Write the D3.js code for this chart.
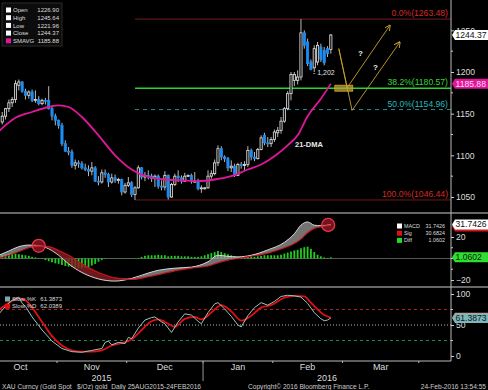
<!DOCTYPE html>
<html>
<head>
<meta charset="utf-8">
<script src="https://cdn.jsdelivr.net/npm/d3@7"></script>
<style>
  html, body { margin: 0; padding: 0; background: #000; }
  svg { display: block; font-family: "Liberation Sans", Arial, sans-serif; }
</style>
</head>
<body>
<svg id="chart" width="488" height="390"></svg>
<script>
// day index counts weekdays, 0 = 1 Oct 2015
const firstDay = 5;
const open = [1140,1147,1156,1163,1167,1184,1188,1177,1172,1176,1166,1167,1162,1166,1166,1156,1147,1142,1136,1114,
  1105,1104,1088,1091,1090,1085,1083,1081,1085,1069,1068,1079,1077,1068,1073,1070,1071,1056,1064,1067,
  1053,1061,1085,1074,1076,1075,1072,1075,1063,1062,1076,1050,1065,1075,1073,1069,1075,1076,1069,1069,
  1060,1061,1061,1075,1078,1091,1108,1098,1096,1085,1087,1076,1089,1088,1089,1106,1098,1096,1107,1124,
  1115,1114,1119,1127,1130,1141,1156,1174,1190,1190,1194,1247,1236,1212,1205,1212,1230,1226,1228,1226.90];
const high = [1152,1157,1167,1170,1190,1191,1189,1180,1178,1179,1178,1171,1168,1169,1183,1160,1150,1143,1139,1118,
  1110,1107,1095,1094,1093,1090,1088,1092,1087,1075,1083,1083,1079,1078,1077,1073,1072,1067,1074,1069,
  1063,1088,1086,1080,1082,1078,1077,1077,1070,1081,1077,1067,1078,1082,1076,1079,1077,1078,1080,1072,
  1064,1062,1082,1082,1095,1112,1111,1100,1098,1094,1090,1091,1092,1093,1111,1108,1104,1109,1124,1127,
  1122,1122,1131,1134,1146,1158,1177,1200,1200,1202,1263.48,1250,1240,1215,1232,1236,1234,1230,1231,1245.64];
const low = [1137,1143,1152,1158,1163,1178,1175,1167,1168,1164,1163,1160,1160,1161,1155,1142,1136,1132,1111,1104,
  1100,1085,1083,1085,1083,1081,1075,1076,1068,1064,1066,1073,1062,1066,1067,1066,1052,1054,1062,1050,
  1046.44,1060,1071,1069,1071,1068,1062,1060,1058,1058,1047,1049,1063,1068,1066,1068,1074,1066,1067,1058,
  1055,1059,1060,1072,1076,1087,1094,1092,1081,1080,1074,1075,1084,1081,1086,1094,1093,1095,1106,1112,
  1110,1110,1116,1122,1126,1139,1154,1166,1183,1185,1190,1228,1207,1202,1200,1208,1212,1208,1218,1221.96];
const close = [1147,1156,1163,1167,1186,1188,1177,1172,1176,1166,1167,1162,1166,1165,1156,1147,1142,1136,1114,1105,
  1104,1088,1091,1090,1085,1083,1081,1085,1069,1068,1079,1077,1068,1073,1070,1071,1056,1064,1067,1053,
  1061,1085,1074,1076,1075,1072,1075,1063,1062,1076,1050,1065,1075,1073,1069,1075,1076,1069,1069,1060,
  1061,1061,1075,1078,1091,1108,1098,1096,1085,1087,1076,1089,1088,1089,1106,1098,1096,1107,1121,1115,
  1114,1119,1128,1130,1141,1156,1174,1197,1197,1194,1247,1232,1210,1203,1228,1232,1215,1211,1222,1244.37];

// 21-day moving average
const smaDay = [4,9,14,19,22,25,29,34,39,44,49,54,59,64,69,74,79,83,87,91,94,97,101,104];
const smaVal = [1129,1145,1152,1158,1160,1158,1146,1124,1100,1083,1074,1071,1070,1069,1071,1075,1083,1089,1099,1112,1124,1147,1168,1185.88];

// MACD panel
const macdDay = [4,7,10,13,16,19,22,25,29,34,39,44,49,52,57,62,67,70,73,76,80,85,90,93,95,97,99,101,104];
const macdVal = [3,7,11,12.5,12,9,3,-5,-13,-19,-21,-18.5,-13.5,-11,-9,-8,-3,3,2,1.5,3,8,15,23,31,34,31,30.5,31.7426];
const sigVal  = [0,3,6.5,10,11.6,11,7.5,3,-5,-13,-18,-19.5,-17,-15,-11.5,-9,-7,-4,-1.5,0,2,5,10,14,18,24,28,29.5,30.6824];
const diffVal = [3.5,4,4.5,4.5,4.5,4,3.5,3,2.5,1.5,1,0.5,-0.5,-1.5,-2.5,-3.5,-4.5,-5,-6,-7,
  -7.5,-8,-8.5,-9,-9,-8.5,-8,-6.5,-5,-3,-1.5,-0.5,0.2,-0.2,0.2,-0.2,0.2,0.2,0.3,0.3,
  0.3,0.5,1.5,2.5,3,3,3,3.5,3,3,2,2.5,2.5,2.5,2,2,2,1.5,1.5,1.5,
  2,3,4,5,6,7,6,5,4,3,2,1.5,1.5,1,1.5,1.5,1.5,2,2.5,3,
  3,3,3,3,3.5,4.5,5.5,6.5,7.5,8,9.5,10.5,11,9,6,3.5,2,1,0.5,1.0602];

// Slow stochastics
const kDay = [4,6,8,10,11,12,14,17,20,23,26,29,32,35,36,37,38,40,42,43,44,46,48,50,51,53,54,56,58,60,62,64,65,67,69,70,72,73,74,76,77,79,81,83,85,87,89,91,93,95,97,99,101,102,103,104];
const kVal = [68,80,90,95,85,80,63,42,24,12,7,6,9,12,22,24,18,22,20,30,28,45,58,62,63,55,52,38,55,68,66,56,52,70,84,86,76,70,64,50,47,65,78,86,82,88,96,98,97,95,85,70,60,57,58,61.3873];
const dDay = [4,7,10,12,14,17,20,23,26,29,32,35,38,41,44,47,50,52,55,57,60,63,65,68,71,74,77,80,83,86,90,93,96,98,100,102,104];
const dVal = [74,86,93,90,78,55,32,17,9,7,7,9,17,21,27,42,56,59,52,47,60,63,59,70,82,72,57,65,78,82,94,97,96,86,75,66,62.0389];

const monthNames = ["Oct","Nov","Dec","Jan","Feb","Mar"];
const monthStart = [0,22,43,66,87,108,131];
const yearNames = ["2015","2016"];
const yearStart = [0,66];

// Fibonacci retracement from the Dec low to the Feb high
const fibPct = ["0.0%","38.2%","50.0%","100.0%"];
const fibVal = [1263.48,1180.57,1154.96,1046.44];

const W = 451;
const svg = d3.select("#chart");
svg.append("rect").attr("width", 488).attr("height", 390).attr("fill", "#000");

const x = d3.scaleLinear().domain([4.33, 140.2]).range([0, W]);
const yP = d3.scaleLinear().domain([1050, 1200]).range([197, 72]);
const yM = d3.scaleLinear().domain([-20, 20]).range([280, 237]);
const yS = d3.scaleLinear().domain([0, 100]).range([356, 294]);

const defs = svg.append("defs");
[["clipP", 0, 212], ["clipM", 214, 72], ["clipS", 288, 73]].forEach(([id, y0, h]) => {
  defs.append("clipPath").attr("id", id).append("rect").attr("x", 0).attr("y", y0).attr("width", W).attr("height", h);
});

// ---------- price panel ----------
const gP = svg.append("g").attr("clip-path", "url(#clipP)");

const fibColor = ["#7a1c1c", "#2ad42a", "#2a8c8c", "#6e1616"];
const fibText = ["#d42a2a", "#3ad43a", "#2ab8b8", "#d42a2a"];
fibVal.forEach((v, k) => {
  gP.append("line").attr("x1", x(45)).attr("x2", W)
    .attr("y1", yP(v)).attr("y2", yP(v))
    .attr("stroke", fibColor[k]).attr("stroke-width", k === 1 ? 1.6 : 1)
    .attr("stroke-dasharray", k === 2 ? "4,4" : null);
  gP.append("text").attr("x", W - 3).attr("y", yP(v) - 3)
    .attr("text-anchor", "end").attr("font-size", 8.6).attr("fill", fibText[k])
    .text(`${fibPct[k]}(${v.toFixed(2)})`);
});

const candles = close.map((c, k) => ({ i: firstDay + k, o: open[k], h: high[k], l: low[k], c }));
gP.selectAll("line.wick").data(candles).join("line").attr("class", "wick")
  .attr("x1", d => x(d.i)).attr("x2", d => x(d.i))
  .attr("y1", d => yP(d.h)).attr("y2", d => yP(d.l))
  .attr("stroke", "#b8b8b8").attr("stroke-width", 1);
gP.selectAll("rect.body").data(candles).join("rect").attr("class", "body")
  .attr("x", d => x(d.i) - 1.1).attr("width", 2.2)
  .attr("y", d => yP(Math.max(d.o, d.c)))
  .attr("height", d => Math.max(1, Math.abs(yP(d.o) - yP(d.c))))
  .attr("fill", d => d.c >= d.o ? "#111" : "#1e8cf0")
  .attr("stroke", d => d.c >= d.o ? "#e6e6e6" : "#1e8cf0")
  .attr("stroke-width", 0.8);

const sma = smaDay.map((d, k) => [d, smaVal[k]]);
gP.append("path").datum(sma)
  .attr("d", d3.line().x(d => x(d[0])).y(d => yP(d[1])).curve(d3.curveMonotoneX))
  .attr("fill", "none").attr("stroke", "#e0179a").attr("stroke-width", 1.8);

gP.append("text").attr("x", 295).attr("y", 147).attr("font-size", 7.5).attr("font-weight", "bold")
  .attr("fill", "#e8e8e8").text("21-DMA");
gP.append("text").attr("x", x(98) + 2).attr("y", yP(1202) + 5).attr("font-size", 7)
  .attr("fill", "#e0e0e0").text("- 1,202");

// scenario sketch
const gold = "#c8a22c";
defs.append("marker").attr("id", "arr").attr("viewBox", "0 0 10 10").attr("refX", 9).attr("refY", 5)
  .attr("markerWidth", 7).attr("markerHeight", 7).attr("orient", "auto")
  .append("path").attr("d", "M0,0 L10,5 L0,10").attr("fill", "none").attr("stroke", gold).attr("stroke-width", 1.5);
const pathA = [[106.4, 1228], [108.9, 1181], [121.8, 1256]];
const pathB = [[106.4, 1228], [110.4, 1154], [124.8, 1236]];
[pathA, pathB].forEach(p => {
  gP.append("path").datum(p)
    .attr("d", d3.line().x(d => x(d[0])).y(d => yP(d[1])))
    .attr("fill", "none").attr("stroke", gold).attr("stroke-width", 0.9)
    .attr("marker-end", "url(#arr)");
});
gP.append("rect").attr("x", x(105.2)).attr("y", yP(1180.57) - 3)
  .attr("width", x(110.6) - x(105.2)).attr("height", 6)
  .attr("fill", "#b7a43a").attr("fill-opacity", 0.75).attr("stroke", "#e0a020").attr("stroke-width", 0.8);
gP.append("text").attr("x", 358).attr("y", 56).attr("font-size", 8).attr("font-weight", "bold").attr("fill", "#eee").text("?");
gP.append("text").attr("x", 373).attr("y", 70).attr("font-size", 8).attr("font-weight", "bold").attr("fill", "#eee").text("?");

// legend
const gL = svg.append("g");
gL.append("rect").attr("x", 2).attr("y", 3).attr("width", 60).attr("height", 43)
  .attr("fill", "#0c0c0c").attr("stroke", "#2a2a2a");
const legNames = ["Open", "High", "Low", "Close", "SMAVG"];
const legVals = [open[open.length - 1], high[high.length - 1], low[low.length - 1], close[close.length - 1], smaVal[smaVal.length - 1]];
legNames.forEach((n, k) => {
  const yy = 10 + k * 7.7;
  gL.append("rect").attr("x", 6).attr("y", yy - 2.5).attr("width", 5).attr("height", 5)
    .attr("fill", k === 4 ? "#e0179a" : "#fff");
  gL.append("text").attr("x", 13).attr("y", yy).attr("dy", "0.35em").attr("font-size", 6).attr("fill", "#ddd").text(n);
  gL.append("text").attr("x", 59).attr("y", yy).attr("dy", "0.35em").attr("font-size", 6)
    .attr("text-anchor", "end").attr("fill", "#ddd").text(legVals[k].toFixed(2));
});

// ---------- MACD panel ----------
const gM = svg.append("g").attr("clip-path", "url(#clipM)");
gM.append("line").attr("x1", 0).attr("x2", W).attr("y1", yM(0)).attr("y2", yM(0)).attr("stroke", "#555");
const diffs = diffVal.map((v, k) => ({ i: firstDay + k, v }));
gM.selectAll("rect.h").data(diffs).join("rect").attr("class", "h")
  .attr("x", d => x(d.i) - 0.9).attr("width", 1.8)
  .attr("y", d => Math.min(yM(0), yM(d.v)))
  .attr("height", d => Math.abs(yM(d.v) - yM(0)))
  .attr("fill", "#1ecf1e");
const mp = macdDay.map((d, k) => ({ d, m: macdVal[k], s: sigVal[k] }));
gM.append("path").datum(mp)
  .attr("d", d3.area().x(d => x(d.d)).y0(d => yM(d.s)).y1(d => yM(Math.max(d.m, d.s))).curve(d3.curveMonotoneX))
  .attr("fill", "#9a9a9a").attr("fill-opacity", 0.75);
gM.append("path").datum(mp)
  .attr("d", d3.area().x(d => x(d.d)).y0(d => yM(d.s)).y1(d => yM(Math.min(d.m, d.s))).curve(d3.curveMonotoneX))
  .attr("fill", "#8a1e24").attr("fill-opacity", 0.8);
gM.append("path").datum(mp)
  .attr("d", d3.line().x(d => x(d.d)).y(d => yM(d.m)).curve(d3.curveMonotoneX))
  .attr("fill", "none").attr("stroke", "#d8d8d8").attr("stroke-width", 1);
gM.append("path").datum(mp)
  .attr("d", d3.line().x(d => x(d.d)).y(d => yM(d.s)).curve(d3.curveMonotoneX))
  .attr("fill", "none").attr("stroke", "#c8141e").attr("stroke-width", 1.2);
[[16, 11.8], [103.2, 31.2]].forEach(([d, v]) => {
  gM.append("circle").attr("cx", x(d)).attr("cy", yM(v)).attr("r", 6.5)
    .attr("fill", "#c41e30").attr("fill-opacity", 0.6).attr("stroke", "#e23848").attr("stroke-width", 1.3);
});
const mLeg = [["MACD", "#fff", macdVal[macdVal.length - 1]], ["Sig", "#e01010", sigVal[sigVal.length - 1]], ["Diff", "#22dd22", diffVal[diffVal.length - 1]]];
mLeg.forEach(([n, c, v], k) => {
  const yy = 226 + k * 7.2;
  svg.append("rect").attr("x", 397).attr("y", yy - 2.5).attr("width", 5).attr("height", 5).attr("fill", c);
  svg.append("text").attr("x", 404).attr("y", yy).attr("dy", "0.35em").attr("font-size", 5.4).attr("fill", "#ddd").text(n);
  svg.append("text").attr("x", 445).attr("y", yy).attr("dy", "0.35em").attr("font-size", 5.4)
    .attr("text-anchor", "end").attr("fill", "#ddd").text(v.toFixed(4));
});

// ---------- Stochastics panel ----------
const gS = svg.append("g").attr("clip-path", "url(#clipS)");
[[75, "#b02020", "3,3"], [50, "#bbbbbb", "1,2"], [25, "#1f8a4a", "3,3"]].forEach(([v, c, da]) => {
  gS.append("line").attr("x1", 0).attr("x2", W).attr("y1", yS(v)).attr("y2", yS(v))
    .attr("stroke", c).attr("stroke-dasharray", da);
});
gS.append("path").datum(dDay.map((d, k) => [d, dVal[k]]))
  .attr("d", d3.line().x(d => x(d[0])).y(d => yS(d[1])).curve(d3.curveMonotoneX))
  .attr("fill", "none").attr("stroke", "#e01010").attr("stroke-width", 1.8);
gS.append("path").datum(kDay.map((d, k) => [d, kVal[k]]))
  .attr("d", d3.line().x(d => x(d[0])).y(d => yS(d[1])))
  .attr("fill", "none").attr("stroke", "#9cc4c4").attr("stroke-width", 1);
[["Slow %K", "#79aaaa", kVal[kVal.length - 1]], ["Slow %D", "#e01010", dVal[dVal.length - 1]]].forEach(([n, c, v], k) => {
  const yy = 299 + k * 7.3;
  svg.append("rect").attr("x", 5).attr("y", yy - 2.5).attr("width", 5).attr("height", 5).attr("fill", c);
  svg.append("text").attr("x", 12).attr("y", yy).attr("dy", "0.35em").attr("font-size", 6).attr("fill", "#ddd").text(n);
  svg.append("text").attr("x", 62).attr("y", yy).attr("dy", "0.35em").attr("font-size", 6)
    .attr("text-anchor", "end").attr("fill", "#ddd").text(v.toFixed(4));
});

// ---------- frame, axes ----------
svg.append("line").attr("x1", 0).attr("x2", 488).attr("y1", 213).attr("y2", 213).attr("stroke", "#8a8a8a").attr("stroke-width", 1.5);
svg.append("line").attr("x1", 0).attr("x2", 488).attr("y1", 287).attr("y2", 287).attr("stroke", "#8a8a8a").attr("stroke-width", 1.5);
svg.append("line").attr("x1", W).attr("x2", W).attr("y1", 0).attr("y2", 361).attr("stroke", "#bbb");
svg.append("line").attr("x1", 0).attr("x2", W).attr("y1", 361).attr("y2", 361).attr("stroke", "#bbb");

function rightAxis(scale, major, minor) {
  const g = svg.append("g").attr("transform", `translate(${W},0)`)
    .call(d3.axisRight(scale).tickValues(major).tickSize(3).tickPadding(2).tickFormat(d3.format("d")));
  g.select(".domain").remove();
  g.selectAll("line").attr("stroke", "#ccc");
  g.selectAll("text").attr("fill", "#ddd").attr("font-size", 8.6).attr("font-family", "Liberation Sans, Arial, sans-serif");
  svg.append("g").selectAll("line").data(minor).join("line")
    .attr("x1", W).attr("x2", W + 2).attr("y1", d => scale(d)).attr("y2", d => scale(d)).attr("stroke", "#ccc");
}
rightAxis(yP, [1050, 1100, 1150, 1200, 1250], [1075, 1125, 1175, 1225]);
rightAxis(yM, [-20, 20], [-10, 0, 10]);
rightAxis(yS, [0, 50, 100], [25, 75]);

function tagBox(yv, fill) {
  const h = 10;
  svg.append("path")
    .attr("d", `M${W + 1},${yv} L${W + 4},${yv - h / 2} H488 V${yv + h / 2} H${W + 4} Z`)
    .attr("fill", fill);
}
function tag(yv, text, fill, color) {
  tagBox(yv, fill);
  svg.append("text").attr("x", W + 4.5).attr("y", yv).attr("dy", "0.35em")
    .attr("font-size", 8.6).attr("fill", color).text(text);
}
tag(yP(close[close.length - 1]), close[close.length - 1].toFixed(2), "#fff", "#111");
tag(yP(smaVal[smaVal.length - 1]), smaVal[smaVal.length - 1].toFixed(2), "#e0179a", "#fde");
tagBox(yM(sigVal[sigVal.length - 1]) + 1, "#d01818");
tag(yM(macdVal[macdVal.length - 1]), macdVal[macdVal.length - 1].toFixed(4), "#fff", "#111");
tag(yM(diffVal[diffVal.length - 1]), diffVal[diffVal.length - 1].toFixed(4), "#2ee02e", "#111");
tagBox(yS(dVal[dVal.length - 1]), "#d01818");
tag(yS(kVal[kVal.length - 1]), kVal[kVal.length - 1].toFixed(4), "#7cb8b8", "#112");

// time axis
const gX = svg.append("g");
monthStart.forEach(m => {
  gX.append("line").attr("x1", x(m - 0.5)).attr("x2", x(m - 0.5)).attr("y1", 361).attr("y2", 363).attr("stroke", "#bbb");
});
monthNames.forEach((n, k) => {
  gX.append("text").attr("x", x((monthStart[k] + monthStart[k + 1]) / 2 - 0.5)).attr("y", 369.5)
    .attr("text-anchor", "middle").attr("font-size", 9).attr("fill", "#ddd").text(n);
});
gX.append("line").attr("x1", x(yearStart[1] - 0.5)).attr("x2", x(yearStart[1] - 0.5))
  .attr("y1", 361).attr("y2", 381).attr("stroke", "#999");
yearNames.forEach((n, k) => {
  const a = Math.max(0, x(yearStart[k] - 0.5));
  const b = k + 1 < yearStart.length ? x(yearStart[k + 1] - 0.5) : W;
  gX.append("text").attr("x", (a + b) / 2).attr("y", 380.5).attr("text-anchor", "middle")
    .attr("font-size", 9).attr("fill", "#ddd").text(n);
});

// footer
const foot = svg.append("g").attr("font-size", 6.6).attr("fill", "#ccc");
foot.append("text").attr("x", 2).attr("y", 388.5).attr("xml:space", "preserve")
  .text("XAU Curncy (Gold Spot   $/Oz) gold  Daily 25AUG2015-24FEB2016");
foot.append("text").attr("x", 248).attr("y", 388.5).text("Copyright\u00a9 2016 Bloomberg Finance L.P.");
foot.append("text").attr("x", 486).attr("y", 388.5).attr("text-anchor", "end").text("24-Feb-2016 13:54:55");
</script>
</body>
</html>
